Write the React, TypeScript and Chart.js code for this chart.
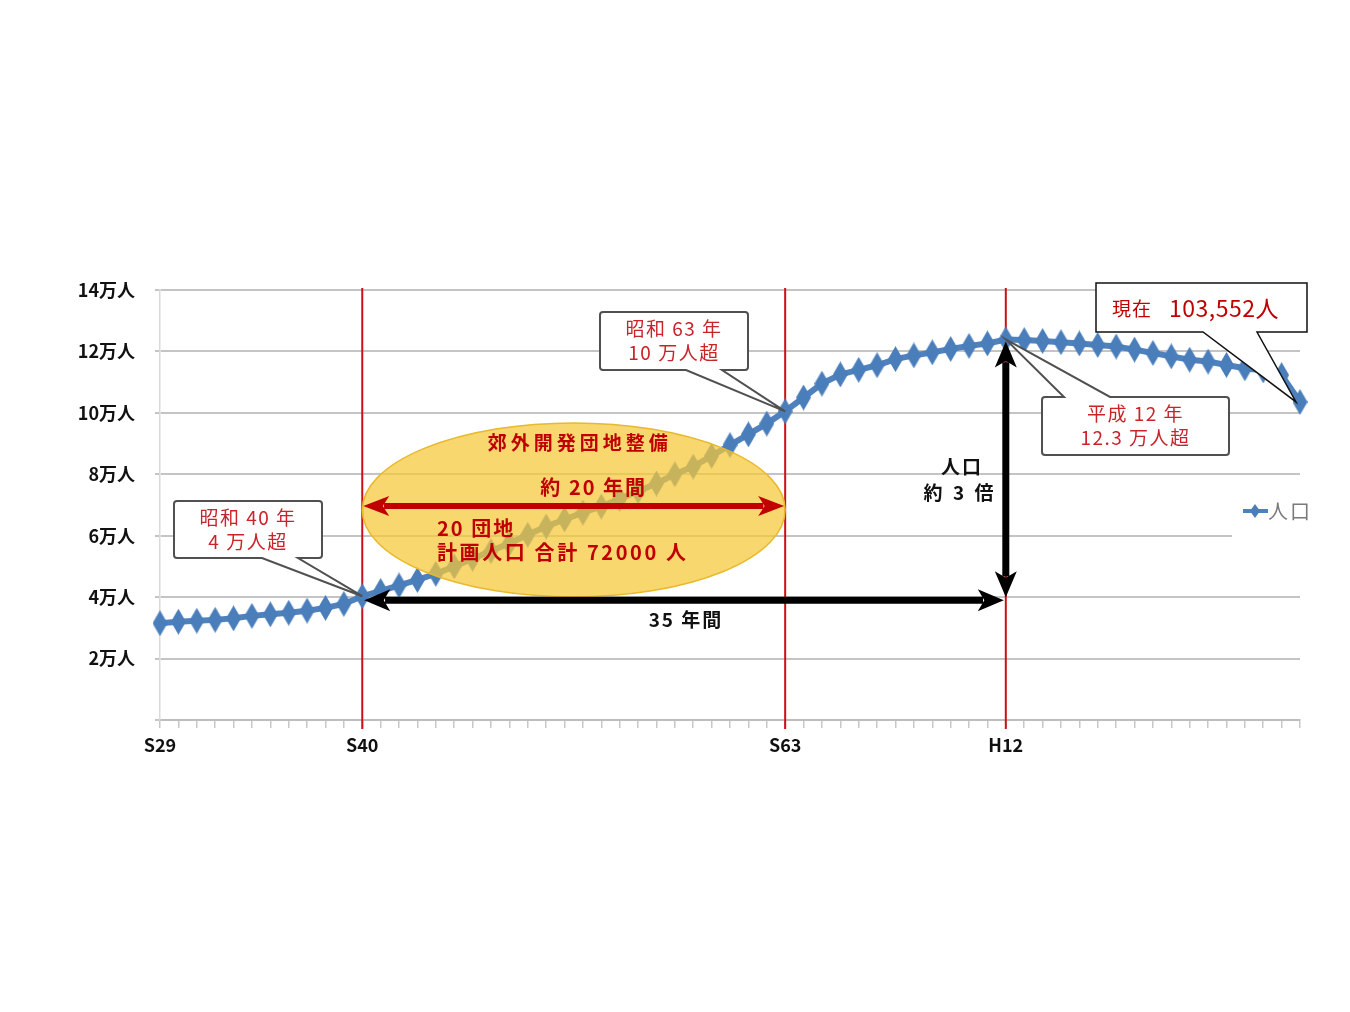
import React, { useEffect, useRef } from 'react';
import { Chart, registerables } from 'chart.js';

Chart.register(...registerables);

// Population by year (Showa 29 = 1954 through 2016)
const years = [
  1954, 1955, 1956, 1957, 1958, 1959, 1960, 1961, 1962, 1963, 1964,
  1965, 1966, 1967, 1968, 1969, 1970, 1971, 1972, 1973, 1974, 1975,
  1976, 1977, 1978, 1979, 1980, 1981, 1982, 1983, 1984, 1985, 1986,
  1987, 1988, 1989, 1990, 1991, 1992, 1993, 1994, 1995, 1996, 1997,
  1998, 1999, 2000, 2001, 2002, 2003, 2004, 2005, 2006, 2007, 2008,
  2009, 2010, 2011, 2012, 2013, 2014, 2015, 2016,
];

const population = [
  31500, 32000, 32300, 32600, 33100, 33900, 34400, 34900, 35600, 36500, 37800,
  40300, 42000, 43800, 45600, 47600, 50000, 52500, 55000, 57500, 60300, 63000,
  65300, 67500, 69500, 72000, 74500, 77000, 80000, 82500, 86000, 89500, 93000,
  96500, 100500, 105000, 109500, 112500, 114000, 115500, 117500, 118700, 119700, 120800,
  121800, 122600, 123900, 123700, 123400, 123000, 122600, 122100, 121600, 120600, 119500,
  118400, 117300, 116700, 115600, 114500, 113800, 112300, 103552,
];

// Era labels shown on the x axis
const eraYears = [1954, 1965, 1988, 2000];
const eraLabels = ['S29', 'S40', 'S63', 'H12'];

// Y axis ticks
const yTickValues = [20000, 40000, 60000, 80000, 100000, 120000, 140000];
const yTickLabels = ['2万人', '4万人', '6万人', '8万人', '10万人', '12万人', '14万人'];

// Milestone years marked with red guide lines
const guideYears = [1965, 1988, 2000];

// Callout notes attached to milestone years
const calloutYears = [1965, 1988, 2000];
const calloutLines = [
  ['昭和 40 年', '4 万人超'],
  ['昭和 63 年', '10 万人超'],
  ['平成 12 年', '12.3 万人超'],
];

const seriesLabel = '人口';
const devPeriodLabel = '約 20 年間';
const devTitle = '郊外開発団地整備';
const devNote1 = '20 団地';
const devNote2 = '計画人口 合計 72000 人';
const growthPeriodLabel = '35 年間';
const growthRatioLines = ['人口', '約 3 倍'];
const currentLabel = '現在';

const JP = "'Noto Sans CJK JP', 'Noto Sans', sans-serif";
const RED = '#c00000';
const LINE_BLUE = '#4f81bd';
const MARK_BLUE = '#4a7ebb';

function makeDiamond(w: number, h: number, color: string) {
  const c = document.createElement('canvas');
  c.width = w;
  c.height = h;
  const g = c.getContext('2d')!;
  g.fillStyle = color;
  g.beginPath();
  g.moveTo(w / 2, 0);
  g.lineTo(w, h / 2);
  g.lineTo(w / 2, h);
  g.lineTo(0, h / 2);
  g.closePath();
  g.fill();
  return c;
}

function text(
  ctx: CanvasRenderingContext2D,
  s: string,
  x: number,
  y: number,
  font: string,
  color: string,
  align: CanvasTextAlign = 'center',
  spacing = 0,
) {
  ctx.save();
  ctx.font = font;
  ctx.fillStyle = color;
  ctx.textAlign = align;
  ctx.textBaseline = 'middle';
  (ctx as any).letterSpacing = spacing + 'px';
  ctx.fillText(s, x, y);
  ctx.restore();
}

function doubleArrow(
  ctx: CanvasRenderingContext2D,
  x1: number,
  y1: number,
  x2: number,
  y2: number,
  shaft: number,
  headLen: number,
  headW: number,
  color: string,
) {
  const dx = x2 - x1;
  const dy = y2 - y1;
  const len = Math.hypot(dx, dy);
  const ux = dx / len;
  const uy = dy / len;
  const nx = -uy;
  const ny = ux;
  ctx.save();
  ctx.strokeStyle = color;
  ctx.fillStyle = color;
  ctx.lineWidth = shaft;
  ctx.beginPath();
  ctx.moveTo(x1 + ux * headLen * 0.8, y1 + uy * headLen * 0.8);
  ctx.lineTo(x2 - ux * headLen * 0.8, y2 - uy * headLen * 0.8);
  ctx.stroke();
  const head = (tx: number, ty: number, dirx: number, diry: number) => {
    ctx.beginPath();
    ctx.moveTo(tx, ty);
    ctx.lineTo(tx - dirx * headLen + nx * headW / 2, ty - diry * headLen + ny * headW / 2);
    ctx.lineTo(tx - dirx * headLen * 0.75, ty - diry * headLen * 0.75);
    ctx.lineTo(tx - dirx * headLen - nx * headW / 2, ty - diry * headLen - ny * headW / 2);
    ctx.closePath();
    ctx.fill();
  };
  head(x2, y2, ux, uy);
  head(x1, y1, -ux, -uy);
  ctx.restore();
}

type Box = { x: number; y: number; w: number; h: number };

function callout(
  ctx: CanvasRenderingContext2D,
  b: Box,
  side: 'top' | 'bottom',
  base1: number,
  base2: number,
  tipX: number,
  tipY: number,
  r: number,
  stroke: string,
  lw: number,
) {
  const { x, y, w, h } = b;
  ctx.save();
  ctx.beginPath();
  ctx.moveTo(x + r, y);
  if (side === 'top') {
    ctx.lineTo(base1, y);
    ctx.lineTo(tipX, tipY);
    ctx.lineTo(base2, y);
  }
  ctx.lineTo(x + w - r, y);
  ctx.arcTo(x + w, y, x + w, y + r, r);
  ctx.lineTo(x + w, y + h - r);
  ctx.arcTo(x + w, y + h, x + w - r, y + h, r);
  if (side === 'bottom') {
    ctx.lineTo(base2, y + h);
    ctx.lineTo(tipX, tipY);
    ctx.lineTo(base1, y + h);
  }
  ctx.lineTo(x + r, y + h);
  ctx.arcTo(x, y + h, x, y + h - r, r);
  ctx.lineTo(x, y + r);
  ctx.arcTo(x, y, x + r, y, r);
  ctx.closePath();
  ctx.fillStyle = '#ffffff';
  ctx.fill();
  ctx.strokeStyle = stroke;
  ctx.lineWidth = lw;
  ctx.lineJoin = 'miter';
  ctx.stroke();
  ctx.restore();
}

// Box geometry and pointer bases for each milestone callout
const calloutBoxes: { box: Box; side: 'top' | 'bottom'; base: [number, number] }[] = [
  { box: { x: 174, y: 501, w: 148, h: 57 }, side: 'bottom', base: [262, 298] },
  { box: { x: 600, y: 312, w: 148, h: 58 }, side: 'bottom', base: [686, 722] },
  { box: { x: 1042, y: 397, w: 187, h: 58 }, side: 'top', base: [1064, 1110] },
];

const overlayPlugin = {
  id: 'populationOverlay',
  beforeDatasetsDraw(chart: any) {
    const { ctx, chartArea, scales } = chart;
    const xs = scales.x;
    ctx.save();
    ctx.strokeStyle = '#cc1018';
    ctx.lineWidth = 2;
    for (const yr of guideYears) {
      const px = xs.getPixelForValue(years.indexOf(yr));
      ctx.beginPath();
      ctx.moveTo(px, chartArea.top - 2);
      ctx.lineTo(px, chartArea.bottom + 9);
      ctx.stroke();
    }
    ctx.restore();
  },
  afterDatasetsDraw(chart: any) {
    const { ctx, scales } = chart;
    const xs = scales.x;
    const ys = scales.y;
    const px = (yr: number) => xs.getPixelForValue(years.indexOf(yr));
    const py = (yr: number) => ys.getPixelForValue(population[years.indexOf(yr)]);

    const xS40 = px(1965);
    const xS63 = px(1988);
    const xH12 = px(2000);
    const yS40 = py(1965);
    const yH12 = py(2000);

    // Development-period ellipse (semi-transparent over the line)
    const ecx = (xS40 + xS63) / 2;
    const ecy = ys.getPixelForValue(68400);
    const erx = (xS63 - xS40) / 2;
    const ery = 87;
    ctx.save();
    ctx.beginPath();
    ctx.ellipse(ecx, ecy, erx, ery, 0, 0, Math.PI * 2);
    ctx.fillStyle = 'rgba(246, 200, 56, 0.72)';
    ctx.fill();
    ctx.strokeStyle = '#e8b92c';
    ctx.lineWidth = 1.5;
    ctx.stroke();
    ctx.restore();

    const redArrowY = ys.getPixelForValue(69700);
    doubleArrow(ctx, xS40 + 1, redArrowY, xS63 - 1, redArrowY, 6, 26, 20, RED);

    text(ctx, devTitle, ecx + 6, ecy - 67, `bold 19px ${JP}`, RED, 'center', 4);
    text(ctx, devPeriodLabel, ecx + 20, ecy - 23, `bold 20px ${JP}`, RED, 'center', 2);
    text(ctx, devNote1, 437, ecy + 18, `bold 20px ${JP}`, RED, 'left', 2);
    text(ctx, devNote2, 437, ecy + 42, `bold 20px ${JP}`, RED, 'left', 2.6);

    // 35-year span arrow and 3x growth arrow
    doubleArrow(ctx, xS40 + 2, yS40 + 4, xH12 - 2, yS40 + 4, 7, 26, 22, '#000000');
    doubleArrow(ctx, xH12, yH12 + 2, xH12, yS40 + 1, 7, 26, 22, '#000000');
    text(ctx, growthPeriodLabel, 686, yS40 + 24, `bold 19px ${JP}`, '#111111', 'center', 2);
    text(ctx, growthRatioLines[0], 962, 467, `bold 19px ${JP}`, '#111111', 'center', 2);
    text(ctx, growthRatioLines[1], 960, 493, `bold 19px ${JP}`, '#111111', 'center', 3);

    // Milestone callouts
    calloutYears.forEach((yr, i) => {
      const c = calloutBoxes[i];
      callout(ctx, c.box, c.side, c.base[0], c.base[1], px(yr), py(yr), 3, '#505050', 2);
      const cx = c.box.x + c.box.w / 2;
      text(ctx, calloutLines[i][0], cx, c.box.y + 17, `19px ${JP}`, '#c8242a', 'center', 1.5);
      text(ctx, calloutLines[i][1], cx, c.box.y + 41, `19px ${JP}`, '#c8242a', 'center', 1.5);
    });

    // Current population callout
    const lastYear = years[years.length - 1];
    const lastVal = population[population.length - 1];
    callout(ctx, { x: 1096, y: 283, w: 211, h: 49 }, 'bottom', 1203, 1257, px(lastYear) - 4, py(lastYear), 0, '#111111', 1.5);
    text(ctx, currentLabel, 1112, 309, `19px ${JP}`, RED, 'left', 1);
    text(ctx, lastVal.toLocaleString('en-US') + '人', 1169, 308, `23px ${JP}`, RED, 'left', 0.5);

    // Legend
    ctx.save();
    ctx.fillStyle = '#ffffff';
    ctx.fillRect(1232, 482, 76, 56);
    ctx.strokeStyle = LINE_BLUE;
    ctx.lineWidth = 4;
    ctx.beginPath();
    ctx.moveTo(1243, 511);
    ctx.lineTo(1268, 511);
    ctx.stroke();
    ctx.fillStyle = MARK_BLUE;
    ctx.beginPath();
    ctx.moveTo(1255, 504);
    ctx.lineTo(1260, 511);
    ctx.lineTo(1255, 518);
    ctx.lineTo(1250, 511);
    ctx.closePath();
    ctx.fill();
    ctx.restore();
    text(ctx, seriesLabel, 1268, 511, `20px ${JP}`, '#7a7a7a', 'left', 2);
  },
};

export default function App() {
  const canvasRef = useRef<HTMLCanvasElement | null>(null);

  useEffect(() => {
    const canvas = canvasRef.current;
    if (!canvas) return;
    const diamond = makeDiamond(15, 26, MARK_BLUE);

    const chart = new Chart(canvas, {
      type: 'line',
      data: {
        labels: years.map(String),
        datasets: [
          {
            label: seriesLabel,
            data: population,
            borderColor: LINE_BLUE,
            backgroundColor: MARK_BLUE,
            borderWidth: 6,
            pointStyle: diamond as any,
            pointRadius: 9,
            tension: 0,
          },
        ],
      },
      options: {
        animation: false,
        responsive: false,
        layout: { padding: { top: 290, right: 50, left: 0, bottom: 0 } },
        plugins: {
          legend: { display: false },
          tooltip: { enabled: false },
        },
        scales: {
          x: {
            type: 'category',
            offset: false,
            grid: {
              display: true,
              drawOnChartArea: false,
              drawTicks: true,
              tickLength: 8,
              tickColor: '#c8c8c8',
              lineWidth: 1.5,
            },
            border: { color: '#bdbdbd', width: 2 },
            ticks: {
              autoSkip: false,
              maxRotation: 0,
              minRotation: 0,
              padding: 6,
              color: '#111111',
              font: { family: JP, size: 18, weight: 'bold' },
              callback: (_v: any, i: number) => {
                const k = eraYears.indexOf(years[i]);
                return k >= 0 ? eraLabels[k] : '';
              },
            },
            afterFit: (s: any) => {
              s.height = 292;
            },
          },
          y: {
            min: 0,
            max: 140000,
            ticks: {
              stepSize: 20000,
              padding: 20,
              color: '#111111',
              font: { family: JP, size: 18, weight: 'bold' },
              callback: (v: any) => {
                const k = yTickValues.indexOf(Number(v));
                return k >= 0 ? yTickLabels[k] : '';
              },
            },
            grid: {
              color: '#c4c4c4',
              lineWidth: 2,
              tickLength: 5,
              tickColor: '#c4c4c4',
            },
            border: { color: '#d9d9d9', width: 1.5 },
            afterFit: (s: any) => {
              s.width = 160;
            },
          },
        },
      },
      plugins: [overlayPlugin],
    });

    return () => chart.destroy();
  }, []);

  return (
    <div style={{ position: 'absolute', left: 0, top: 0, width: 1350, height: 1012, background: '#ffffff' }}>
      <canvas ref={canvasRef} width={1350} height={1012} style={{ display: 'block' }} />
    </div>
  );
}
